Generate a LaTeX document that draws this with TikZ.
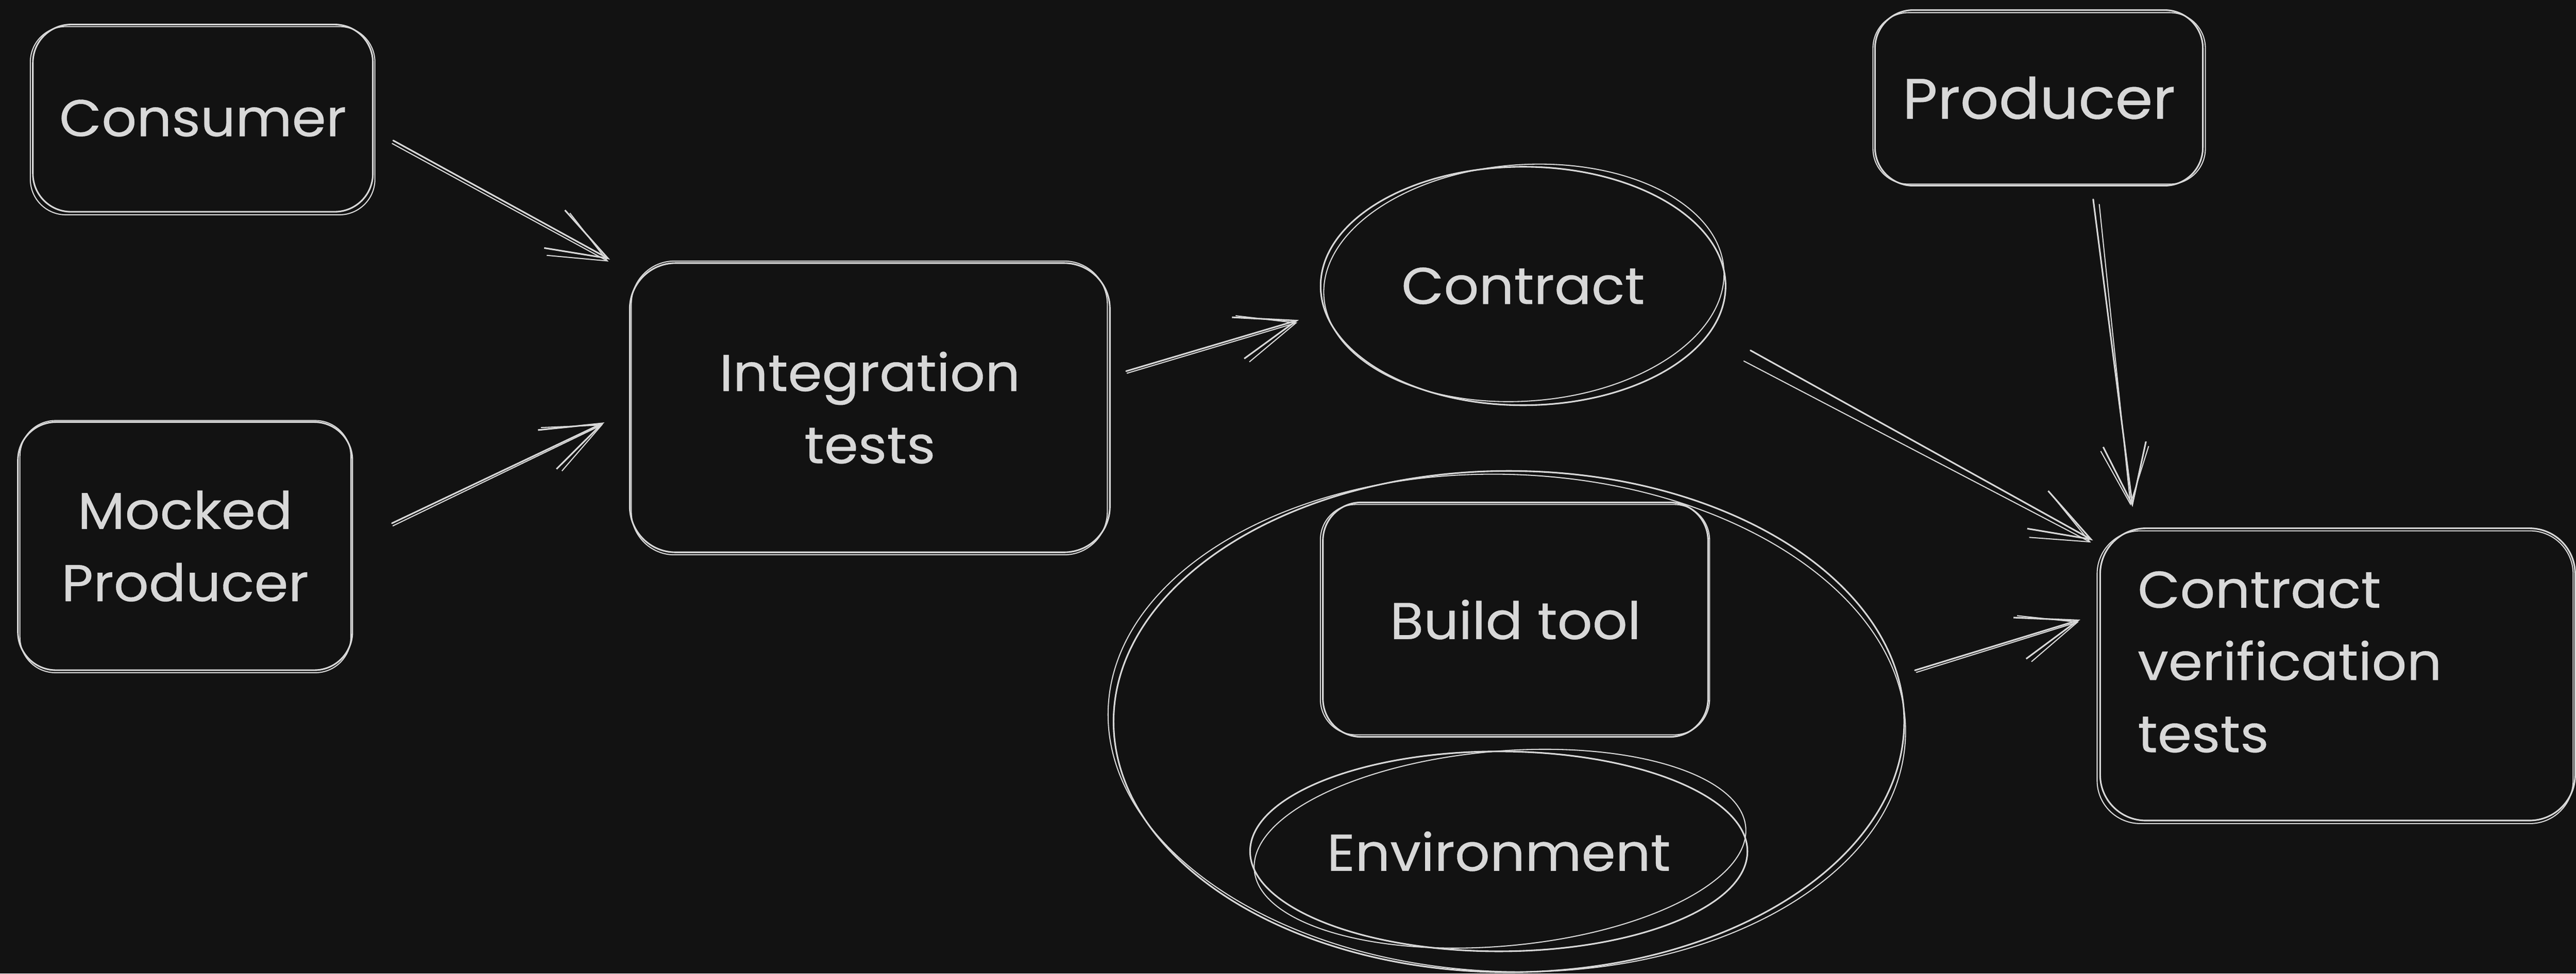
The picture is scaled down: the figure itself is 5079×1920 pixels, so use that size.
\documentclass[tikz,border=0pt]{standalone}
\usepackage{fontspec}
\setmainfont{Poppins}[FakeStretch=1.06, FakeBold=0.4]
\usetikzlibrary{arrows.meta,shapes.geometric,calc}
\definecolor{bg}{HTML}{121212}
\definecolor{ink}{HTML}{D8D8D8}
\tikzset{
  box/.style={draw=ink, line width=0.9pt, rounded corners=0.75cm, inner sep=0pt, outer sep=0pt, text=ink, align=center},
  oval/.style={ellipse, draw=ink, line width=0.9pt, inner sep=0pt, outer sep=0pt, text=ink, align=center},
  sk/.style={draw=ink, line width=0.6pt},
  arr/.style={draw=ink, line width=0.9pt, line cap=round, -{Straight Barb[length=1.2cm,width=0.85cm]}},
  arrb/.style={draw=ink, line width=0.6pt, line cap=round, -{Straight Barb[length=1.1cm,width=0.95cm]}},
  lbl/.style={font=\fontsize{29}{40.5}\selectfont},
  lblbig/.style={font=\fontsize{32}{44}\selectfont}
}
\newcommand\skbox[4]{\draw[sk, rounded corners=#4] ($(#1.north west)+(#2)$) rectangle ($(#1.south east)+(#3)$);}
\begin{document}
\begin{tikzpicture}[x=0.01cm, y=-0.01cm]
\fill[bg] (0,0) rectangle (5079,1920);
\useasboundingbox (0,0) rectangle (5079,1920);

% nodes
\node[box, lbl, minimum width=6.70cm, minimum height=3.69cm] (consumer) at (400,233) {Consumer};
\node[box, lbl, minimum width=6.59cm, minimum height=4.89cm] (mocked) at (365,1077) {Mocked\\Producer};
\node[box, lbl, minimum width=9.46cm, minimum height=5.70cm, rounded corners=0.9cm] (integ) at (1715,804) {Integration\\tests};
\node[oval, lbl, minimum width=7.98cm, minimum height=4.70cm] (contract) at (3003,564) {Contract};
\node[box, lblbig, minimum width=6.46cm, minimum height=3.46cm] (producer) at (4020,193) {Producer\rule{0pt}{0pt}};
\node[oval, minimum width=15.58cm, minimum height=9.88cm] (ctx) at (2975,1423) {};
\node[box, lbl, minimum width=7.59cm, minimum height=4.62cm] (build) at (2988,1222) {Build tool};
\node[oval, lbl, minimum width=9.80cm, minimum height=3.94cm] (env) at (2955,1679) {Environment};
\node[box, lbl, minimum height=5.76cm, text width=7.88cm, inner xsep=0.74cm, align=left, rounded corners=0.9cm] (cvt) at (4609,1330) {Contract\\verification\\tests\rule[-0.5cm]{0pt}{0.5cm}};

% sketchy second outlines
\skbox{consumer}{-5,4}{4,6}{0.7cm}
\skbox{mocked}{4,-3}{-3,5}{0.7cm}
\skbox{integ}{3,-4}{-5,5}{0.85cm}
\skbox{producer}{-4,5}{5,-3}{0.7cm}
\skbox{build}{-5,4}{3,-4}{0.7cm}
\skbox{cvt}{-6,5}{-4,6}{0.85cm}
\draw[sk, rotate around={4:(contract.center)}] ($(contract.center)+(2,-6)$) ellipse [x radius=3.95cm, y radius=2.33cm];
\draw[sk, rotate around={-2:(ctx.center)}] ($(ctx.center)+(-4,3)$) ellipse [x radius=7.86cm, y radius=4.90cm];
\draw[sk, rotate around={5:(env.center)}] ($(env.center)+(3,-5)$) ellipse [x radius=4.86cm, y radius=1.92cm];

% connectors
\draw[arr]  ($(consumer.east)+(40,44)$) -- ($(integ.north west)+(-39,-7)$);
\draw[arrb] ($(consumer.east)+(38,50)$) -- ($(integ.north west)+(-42,-3)$);

\draw[arr]  ($(mocked.east)+(78,-45)$) -- ($(integ.west)+(-50,29)$);
\draw[arrb] ($(mocked.east)+(80,-40)$) -- ($(integ.west)+(-53,33)$);

\draw[arr]  ($(integ.east)+(32,-72)$) -- ($(contract.west)+(-43,67)$);
\draw[arrb] ($(integ.east)+(34,-68)$) -- ($(contract.west)+(-46,72)$);

\draw[arr]  ($(contract.east)+(49,127)$) -- ($(cvt.north west)+(-14,24)$);
\draw[arrb] ($(contract.east)+(36,148)$) -- ($(cvt.north west)+(-18,28)$);

\draw[arr]  ($(producer.south)+(107,27)$) -- ($(cvt.north west)+(64,-42)$);
\draw[arrb] ($(producer.south)+(119,37)$) -- ($(cvt.north west)+(60,-45)$);

\draw[arr]  ($(ctx.east)+(21,-101)$) -- ($(cvt.west)+(-39,-108)$);
\draw[arrb] ($(ctx.east)+(24,-97)$) -- ($(cvt.west)+(-42,-104)$);
\end{tikzpicture}
\end{document}
